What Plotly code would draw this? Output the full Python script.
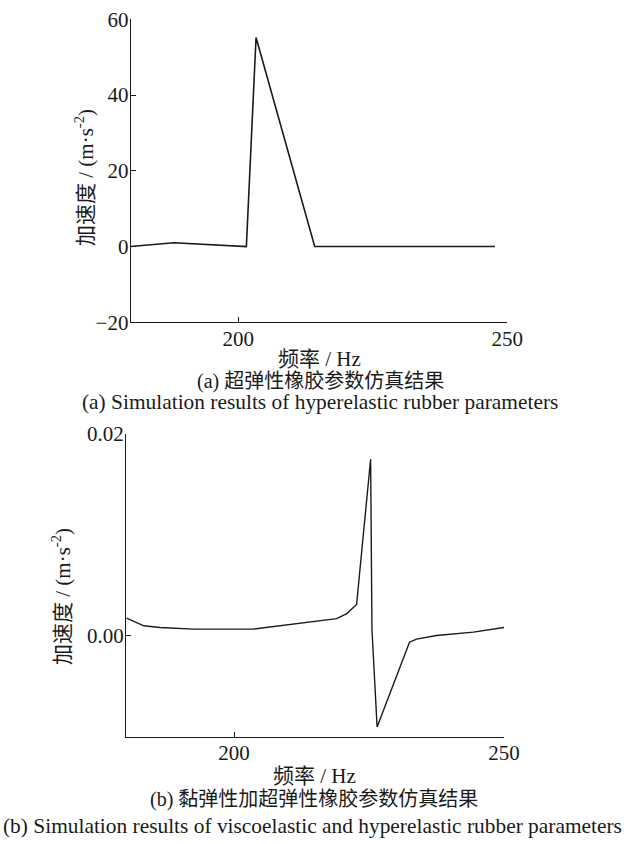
import plotly.graph_objects as go

# (a) hyperelastic rubber parameters: frequency (Hz) vs acceleration (m/s^2)
freq_a = [180.0, 188.0, 201.5, 203.3, 214.2, 236.0, 240.0, 244.0, 247.7]
acc_a = [0.0, 1.0, 0.0, 55.2, 0.0, 0.0, -0.1, 0.0, 0.0]

# (b) viscoelastic + hyperelastic rubber parameters
freq_b = [180.1, 183.3, 186.3, 192.5, 203.6, 208.5, 213.5, 219.0, 220.9, 222.7,
          225.3, 225.55, 226.5, 232.5, 233.8, 237.5, 244.3, 250.0]
acc_b = [0.00175, 0.00099, 0.00083, 0.00066, 0.00066, 0.00099, 0.00135, 0.0017,
         0.0022, 0.0031, 0.0175, 0.0006, -0.00904, -0.00063, -0.00033, 0.00003,
         0.00036, 0.00083]

x_ticks = [200, 250]
y_ticks_a = [-20, 0, 20, 40, 60]
y_ticks_b = [0.0, 0.02]
y_ticktext_b = ["0.00", "0.02"]

W, H = 624, 844
FONT = "Liberation Serif, Noto Sans CJK SC"
FS = 21
INK = "#1a1a1a"


def px(x):
    return x / W


def py(y):
    return 1 - y / H


fig = go.Figure()
fig.add_trace(go.Scatter(x=freq_a, y=acc_a, mode="lines",
                         line=dict(color=INK, width=1.6),
                         xaxis="x", yaxis="y", showlegend=False))
fig.add_trace(go.Scatter(x=freq_b, y=acc_b, mode="lines",
                         line=dict(color=INK, width=1.4),
                         xaxis="x2", yaxis="y2", showlegend=False))

axis_common = dict(showgrid=False, zeroline=False, showline=True,
                   linecolor=INK, linewidth=1.2, ticks="inside",
                   ticklen=5, tickwidth=1.2, tickcolor=INK, automargin=False,
                   tickfont=dict(family=FONT, size=FS, color=INK))

fig.update_layout(
    width=W, height=H,
    margin=dict(l=0, r=0, t=0, b=0, autoexpand=False),
    paper_bgcolor="white", plot_bgcolor="white",
    font=dict(family=FONT, size=FS, color=INK),
    showlegend=False,
    xaxis=dict(domain=[px(130.7), px(507.3)], range=[180, 250],
               tickvals=x_ticks, anchor="y", ticklabelstandoff=-3, **axis_common),
    yaxis=dict(domain=[py(322.3), py(19.3)], range=[-20, 60],
               tickvals=y_ticks_a, anchor="x", ticklabelstandoff=-3, **axis_common),
    xaxis2=dict(domain=[px(126), px(504)], range=[180, 250],
                tickvals=x_ticks, anchor="y2", ticklabelstandoff=-3, **axis_common),
    yaxis2=dict(domain=[py(736.7), py(434)], range=[-0.01, 0.02],
                tickvals=y_ticks_b, ticktext=y_ticktext_b, anchor="x2",
                ticklabelstandoff=-3, **axis_common),
)

texts = [
    # (text, x_px, y_px, angle, size)
    ("频率 / Hz", 319, 359, 0, FS),
    ("(a) 超弹性橡胶参数仿真结果", 320, 381, 0, 20),
    ("(a) Simulation results of hyperelastic rubber parameters", 320, 402, 0, 21.4),
    ("加速度 / (m·s<sup>-2</sup>)", 85, 177, -90, FS),
    ("频率 / Hz", 314, 776, 0, FS),
    ("(b) 黏弹性加超弹性橡胶参数仿真结果", 314, 799, 0, 20),
    ("(b) Simulation results of viscoelastic and hyperelastic rubber parameters", 312, 826, 0, 21.4),
    ("加速度 / (m·s<sup>-2</sup>)", 61, 597, -90, FS),
]
for t, x, y, ang, fs in texts:
    fig.add_annotation(text=t, x=px(x), y=py(y), xref="paper", yref="paper",
                       xanchor="center", yanchor="middle", showarrow=False,
                       textangle=ang, font=dict(family=FONT, size=fs, color=INK))

# pin the figure to the page's top-left corner
pin = """
document.documentElement.style.overflow='hidden';
document.body.style.margin='0';
document.body.style.overflow='hidden';
var gd=document.getElementById('{plot_id}');
gd.style.position='fixed'; gd.style.left='0px'; gd.style.top='0px';
"""
fig.write_html("out.html", post_script=pin)
